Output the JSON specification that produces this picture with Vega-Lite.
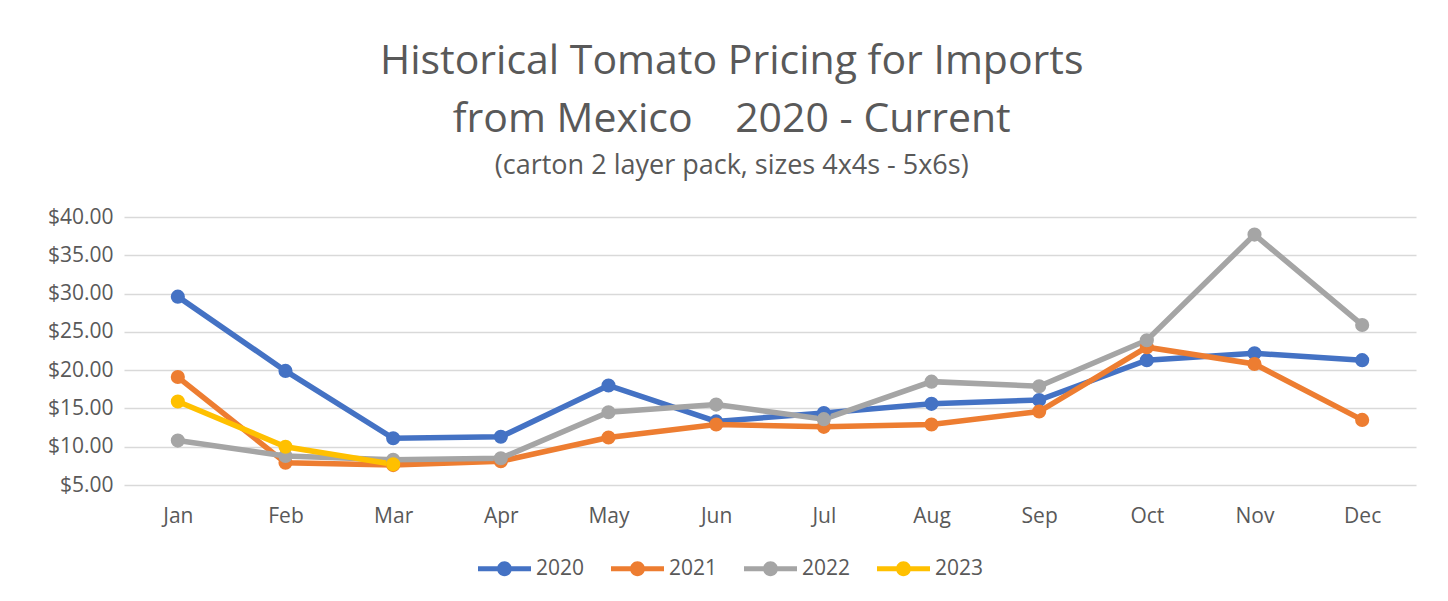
{
  "$schema": "https://vega.github.io/schema/vega-lite/v6.json",
  "autosize": "none",
  "width": 1292,
  "height": 268,
  "padding": {"left": 124, "top": 217, "right": 32, "bottom": 116},
  "background": "white",
  "config": {"view": {"stroke": null}, "font": "Open Sans"},
  "title": {
    "text": ["Historical Tomato Pricing for Imports", "from Mexico\u00a0\u00a0\u00a0 2020 - Current"],
    "subtitle": "(carton 2 layer pack, sizes 4x4s - 5x6s)",
    "anchor": "middle",
    "frame": "bounds",
    "font": "Open Sans",
    "fontSize": 41,
    "fontWeight": "normal",
    "color": "#595959",
    "lineHeight": 58,
    "subtitleFont": "Open Sans",
    "subtitleFontSize": 27,
    "subtitleColor": "#595959",
    "subtitlePadding": 12,
    "offset": 26
  },
  "data": {"values": [
    {"year": "2020", "month": "Jan", "price": 29.6},
    {"year": "2020", "month": "Feb", "price": 19.9},
    {"year": "2020", "month": "Mar", "price": 11.1},
    {"year": "2020", "month": "Apr", "price": 11.3},
    {"year": "2020", "month": "May", "price": 18.0},
    {"year": "2020", "month": "Jun", "price": 13.3},
    {"year": "2020", "month": "Jul", "price": 14.4},
    {"year": "2020", "month": "Aug", "price": 15.6},
    {"year": "2020", "month": "Sep", "price": 16.1},
    {"year": "2020", "month": "Oct", "price": 21.3},
    {"year": "2020", "month": "Nov", "price": 22.2},
    {"year": "2020", "month": "Dec", "price": 21.3},
    {"year": "2021", "month": "Jan", "price": 19.1},
    {"year": "2021", "month": "Feb", "price": 7.9},
    {"year": "2021", "month": "Mar", "price": 7.6},
    {"year": "2021", "month": "Apr", "price": 8.1},
    {"year": "2021", "month": "May", "price": 11.2},
    {"year": "2021", "month": "Jun", "price": 12.9},
    {"year": "2021", "month": "Jul", "price": 12.6},
    {"year": "2021", "month": "Aug", "price": 12.9},
    {"year": "2021", "month": "Sep", "price": 14.6},
    {"year": "2021", "month": "Oct", "price": 23.0},
    {"year": "2021", "month": "Nov", "price": 20.8},
    {"year": "2021", "month": "Dec", "price": 13.5},
    {"year": "2022", "month": "Jan", "price": 10.8},
    {"year": "2022", "month": "Feb", "price": 8.8},
    {"year": "2022", "month": "Mar", "price": 8.3},
    {"year": "2022", "month": "Apr", "price": 8.5},
    {"year": "2022", "month": "May", "price": 14.5},
    {"year": "2022", "month": "Jun", "price": 15.5},
    {"year": "2022", "month": "Jul", "price": 13.6},
    {"year": "2022", "month": "Aug", "price": 18.5},
    {"year": "2022", "month": "Sep", "price": 17.9},
    {"year": "2022", "month": "Oct", "price": 23.9},
    {"year": "2022", "month": "Nov", "price": 37.7},
    {"year": "2022", "month": "Dec", "price": 25.9},
    {"year": "2023", "month": "Jan", "price": 15.9},
    {"year": "2023", "month": "Feb", "price": 10.0},
    {"year": "2023", "month": "Mar", "price": 7.7}
  ]},
  "mark": {"type": "line", "strokeWidth": 5.5, "point": {"filled": true, "size": 200}},
  "encoding": {
    "x": {
      "field": "month",
      "type": "ordinal",
      "sort": ["Jan", "Feb", "Mar", "Apr", "May", "Jun", "Jul", "Aug", "Sep", "Oct", "Nov", "Dec"],
      "axis": {
        "title": null,
        "labelAngle": 0,
        "domain": false,
        "ticks": false,
        "labelFontSize": 21,
        "labelColor": "#595959",
        "labelPadding": 20,
        "labelFont": "Open Sans"
      }
    },
    "y": {
      "field": "price",
      "type": "quantitative",
      "scale": {"domain": [5, 40], "nice": false, "zero": false},
      "axis": {
        "title": null,
        "values": [5, 10, 15, 20, 25, 30, 35, 40],
        "format": "$.2f",
        "domain": false,
        "ticks": false,
        "gridColor": "#D9D9D9",
        "gridWidth": 1.5,
        "labelFontSize": 21,
        "labelColor": "#595959",
        "labelPadding": 11,
        "labelFont": "Open Sans"
      }
    },
    "color": {
      "field": "year",
      "type": "nominal",
      "scale": {"domain": ["2020", "2021", "2022", "2023"], "range": ["#4472C4", "#ED7D31", "#A5A5A5", "#FFC000"]},
      "legend": {
        "title": null,
        "orient": "none",
        "direction": "horizontal",
        "legendX": 354,
        "legendY": 325,
        "symbolType": "M-1,-0.09L1,-0.09L1,0.09L-1,0.09Z M-0.28,0A0.28,0.28 0 1,1 0.28,0A0.28,0.28 0 1,1 -0.28,0Z",
        "symbolSize": 2809,
        "symbolStrokeWidth": 0,
        "labelFontSize": 21,
        "labelColor": "#595959",
        "labelFont": "Open Sans",
        "labelOffset": 5,
        "columnPadding": 26,
        "encode": {"symbols": {"update": {"fill": {"field": "value", "scale": "color"}, "strokeWidth": {"value": 0}, "opacity": {"value": 1}}}}
      }
    }
  }
}
